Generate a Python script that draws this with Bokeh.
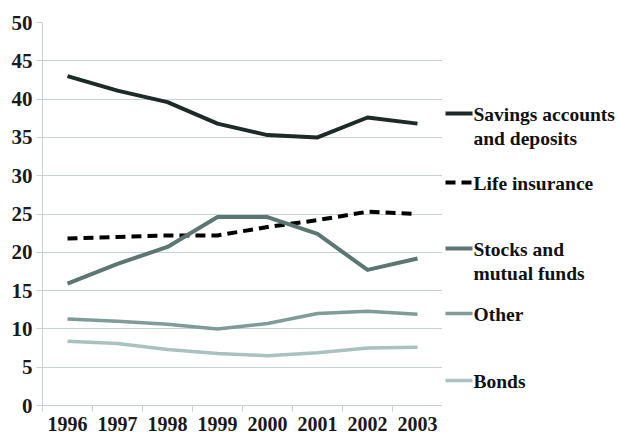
from bokeh.plotting import figure
from bokeh.models import Range1d, FixedTicker
from bokeh.layouts import row
from bokeh.core.properties import value
from bokeh.embed import file_html
from bokeh.resources import INLINE

years = ["1996", "1997", "1998", "1999", "2000", "2001", "2002", "2003"]
savings = [43.0, 41.1, 39.6, 36.8, 35.3, 35.0, 37.6, 36.8]
life_insurance = [21.8, 22.0, 22.2, 22.2, 23.3, 24.2, 25.3, 25.0]
stocks = [15.9, 18.5, 20.7, 24.6, 24.6, 22.4, 17.7, 19.2]
other = [11.3, 11.0, 10.6, 10.0, 10.7, 12.0, 12.3, 11.9]
bonds = [8.4, 8.1, 7.3, 6.8, 6.5, 6.9, 7.5, 7.6]
series_names = ["Savings accounts\nand deposits", "Life insurance",
                "Stocks and\nmutual funds", "Other", "Bonds"]
y_ticks = [0, 5, 10, 15, 20, 25, 30, 35, 40, 45, 50]

FONT = "Liberation Serif"
GRID = "#c5d3d4"
TOP, BOTTOM = 22, 29
FRAME_H = 383
MAIN_FW, LEG_FW = 400, 176

p = figure(frame_width=MAIN_FW, frame_height=FRAME_H, output_backend="svg",
           toolbar_location=None,
           x_range=Range1d(0, len(years)), y_range=Range1d(0, 50),
           min_border_left=42, min_border_right=0, min_border_top=TOP,
           min_border_bottom=BOTTOM)
p.outline_line_color = None

xs = [i + 0.5 for i in range(len(years))]

styles = [
    dict(color="#1c2b28", width=4, dash="solid"),
    dict(color="#000000", width=4, dash="10 6"),
    dict(color="#5b7673", width=4, dash="solid"),
    dict(color="#7f9c99", width=3.5, dash="solid"),
    dict(color="#a9c2bf", width=3.5, dash="solid"),
]
all_series = [savings, life_insurance, stocks, other, bonds]
for vals, st in zip(all_series, styles):
    p.line(xs, vals, line_color=st["color"], line_width=st["width"],
           line_dash=st["dash"], line_join="round", line_cap="butt")

p.xgrid.grid_line_color = None
p.ygrid.grid_line_color = GRID
p.ygrid.grid_line_width = 1

p.yaxis.ticker = FixedTicker(ticks=y_ticks)
p.yaxis.axis_line_color = GRID
p.yaxis.major_tick_line_color = GRID
p.yaxis.major_tick_out = 6
p.yaxis.major_tick_in = 0
p.yaxis.minor_tick_line_color = None
p.yaxis.major_label_text_font = FONT
p.yaxis.major_label_text_font_style = "bold"
p.yaxis.major_label_text_font_size = "21px"
p.yaxis.major_label_text_color = "#1a1a1a"
p.yaxis.major_label_standoff = 4

p.xaxis.ticker = FixedTicker(ticks=xs, minor_ticks=list(range(len(years) + 1)))
p.xaxis.major_label_overrides = {x: y for x, y in zip(xs, years)}
p.xaxis.axis_line_color = GRID
p.xaxis.major_tick_line_color = None
p.xaxis.major_tick_out = 0
p.xaxis.major_tick_in = 0
p.xaxis.minor_tick_line_color = GRID
p.xaxis.minor_tick_out = 6
p.xaxis.minor_tick_in = 0
p.xaxis.major_label_text_font = FONT
p.xaxis.major_label_text_font_style = "bold"
p.xaxis.major_label_text_font_size = "20px"
p.xaxis.major_label_text_color = "#1a1a1a"
p.xaxis.major_label_standoff = 5

# legend panel: frame aligned with the main frame; y in picture pixels
lg = figure(frame_width=LEG_FW, frame_height=FRAME_H, output_backend="svg",
            toolbar_location=None,
            x_range=Range1d(0, LEG_FW), y_range=Range1d(TOP + FRAME_H, TOP),
            min_border_left=0, min_border_right=0, min_border_top=TOP,
            min_border_bottom=BOTTOM)
lg.axis.visible = False
lg.grid.visible = False
lg.outline_line_color = None

legend_rows = [113, 182, 248, 313, 380]
for name, st, ly in zip(series_names, styles, legend_rows):
    lg.segment(x0=[3], y0=[ly], x1=[30], y1=[ly], line_color=st["color"],
               line_width=st["width"], line_dash=st["dash"])
    lines = name.split("\n")
    lg.text(x=[31] * len(lines), y=[ly + 1 + 24 * k for k in range(len(lines))], text=lines,
            text_font=value(FONT), text_font_style="bold", text_font_size="19.5px",
            text_color="#111111", text_baseline="middle", text_align="left")

layout = row(p, lg, spacing=0)
open("out.html", "w").write(file_html(layout, INLINE))
